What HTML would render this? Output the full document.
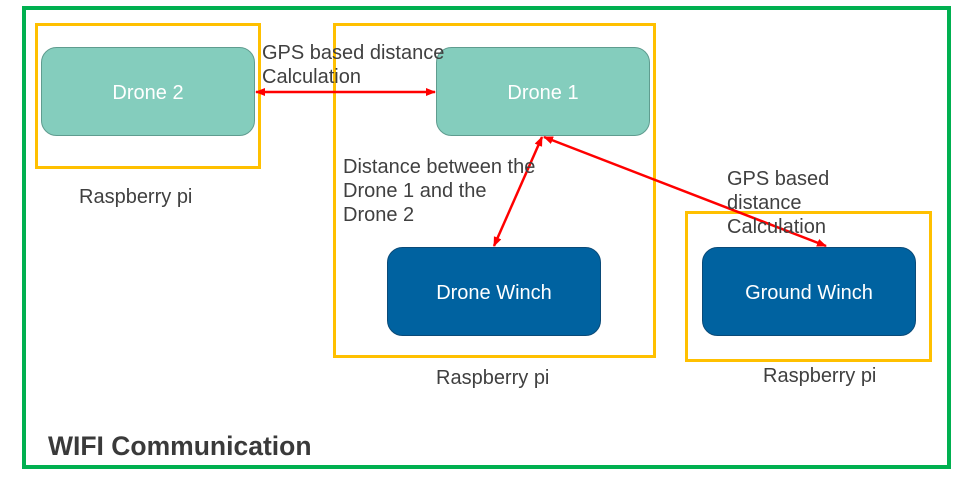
<!DOCTYPE html>
<html><head><meta charset="utf-8"><style>
html,body{margin:0;padding:0;background:#fff;}
svg{display:block;}
text{font-family:"Liberation Sans",Arial,sans-serif;}
</style></head><body>
<svg width="973" height="480" viewBox="0 0 973 480" xmlns="http://www.w3.org/2000/svg">
<defs>
<marker id="a" markerWidth="10" markerHeight="10" refX="9" refY="5" orient="auto-start-reverse" markerUnits="userSpaceOnUse"><path d="M0,1 L10,5 L0,9 z" fill="#f00"/></marker>
</defs>
<rect x="24" y="8" width="925" height="459" fill="none" stroke="#00b050" stroke-width="4"/>
<rect x="36.5" y="24.5" width="223" height="143" fill="none" stroke="#ffc000" stroke-width="3"/>
<rect x="334.5" y="24.5" width="320" height="332" fill="none" stroke="#ffc000" stroke-width="3"/>
<rect x="686.5" y="212.5" width="244" height="148" fill="none" stroke="#ffc000" stroke-width="3"/>
<rect x="41.5" y="47.5" width="213" height="88" rx="15" fill="#84cdbd" stroke="#5f9c8f"/>
<rect x="436.5" y="47.5" width="213" height="88" rx="15" fill="#84cdbd" stroke="#5f9c8f"/>
<rect x="387.5" y="247.5" width="213" height="88" rx="15" fill="#0062a0" stroke="#0a4a78"/>
<rect x="702.5" y="247.5" width="213" height="88" rx="15" fill="#0062a0" stroke="#0a4a78"/>
<g font-size="20" fill="#fff" text-anchor="middle">
<text x="148" y="99">Drone 2</text>
<text x="543" y="99">Drone 1</text>
<text x="494" y="299">Drone Winch</text>
<text x="809" y="299">Ground Winch</text>
</g>
<g stroke="#f00" stroke-width="2.5" fill="none">
<line x1="256" y1="92" x2="435" y2="92" marker-start="url(#a)" marker-end="url(#a)"/>
<line x1="542" y1="137" x2="494" y2="246" marker-start="url(#a)" marker-end="url(#a)"/>
<line x1="544" y1="137" x2="826" y2="246" marker-start="url(#a)" marker-end="url(#a)"/>
</g>
<g font-size="20" fill="#404040">
<text x="262" y="59">GPS based distance</text>
<text x="262" y="83">Calculation</text>
<text x="343" y="173">Distance between the</text>
<text x="343" y="197">Drone 1 and the</text>
<text x="343" y="221">Drone 2</text>
<text x="727" y="185">GPS based</text>
<text x="727" y="209">distance</text>
<text x="727" y="233">Calculation</text>
<text x="79" y="203">Raspberry pi</text>
<text x="436" y="384">Raspberry pi</text>
<text x="763" y="382">Raspberry pi</text>
</g>
<text x="48" y="455" font-size="26.5" font-weight="bold" fill="#3a3a3a">WIFI Communication</text>
</svg>
</body></html>
